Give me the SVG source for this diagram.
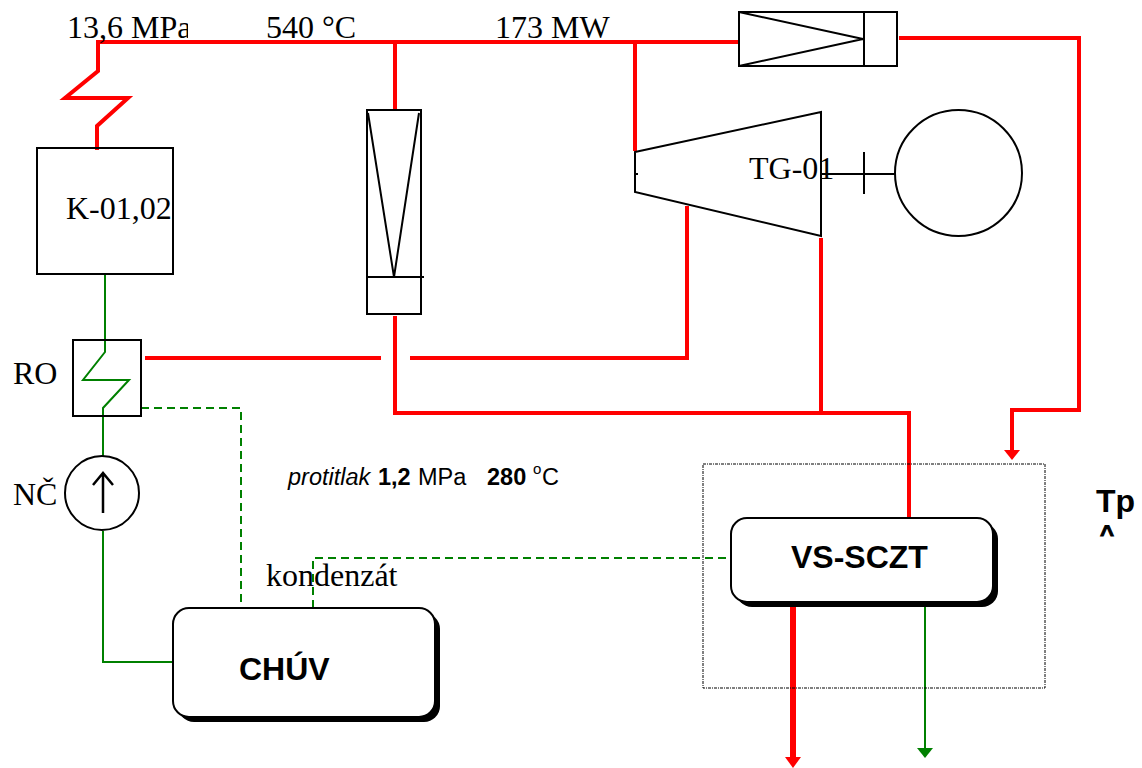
<svg xmlns="http://www.w3.org/2000/svg" width="1142" height="768" viewBox="0 0 1142 768">
<style>
.o{fill:none;stroke:#000;stroke-width:2}
.w{fill:#fff;stroke:#000;stroke-width:2}
.r{fill:none;stroke:#f00;stroke-width:4;stroke-linejoin:miter}
.g{fill:none;stroke:#008000;stroke-width:2}
.d{fill:none;stroke:#008000;stroke-width:2;stroke-dasharray:8 5}
.t{font-family:"Liberation Serif",serif;font-size:32px;fill:#000}
.s{font-family:"Liberation Sans",sans-serif;font-size:32px;font-weight:bold;fill:#000}
.p{font-family:"Liberation Sans",sans-serif;font-size:23.500px;fill:#000}
</style>
<defs><clipPath id="c"><rect x="0" y="0" width="188" height="60"/></clipPath></defs>
<rect width="1142" height="768" fill="#fff"/>
<g id="connectors">
<path class="r" d="M97 150V126L128 98H65L98 71V42H738"/>
<path class="r" d="M395 42V110"/>
<path class="r" d="M635 42V151"/>
<path class="r" d="M899 38H1079V410H1012V451"/>
<path class="r" d="M145 358H381"/>
<path class="r" d="M410 358H687V206"/>
<path class="r" d="M395 316V413H909V517"/>
<path class="r" d="M821 238V413"/>
<path d="M793 606V758" fill="none" stroke="#f00" stroke-width="6"/>
<path d="M785 757H801L793 768Z" fill="#f00"/>
<path d="M1004 450H1020L1012 460Z" fill="#f00"/>
<path class="g" d="M925 607V749"/>
<path d="M917 748H933L925 758Z" fill="#008000"/>
<path class="g" d="M105 274V352L83 380H129L103 408V456"/>
<path class="g" d="M103 531V662H173"/>
<path class="d" d="M141 408H241V608"/>
<path class="d" d="M313 608V558H732"/>
</g>
<g id="K-01"><rect class="o" x="37" y="148" width="136" height="126"/><text class="t" x="66" y="219">K-01,02</text></g>
<g id="tank"><rect class="o" x="367" y="110" width="54" height="204"/><path class="o" d="M368 113L394 277L419 113M367 277H424"/></g>
<g id="valve"><rect class="o" x="739" y="12" width="158" height="54"/><path class="o" d="M739 12L863 39L739 66M864 12V66"/></g>
<g id="turbine"><path class="o" d="M635 152L821 112V236L635 192Z"/><path class="o" d="M635 174H638M821 174H895M864 152V194"/><text class="t" x="749" y="179">TG-01</text></g>
<g id="generator"><ellipse class="o" cx="958.500" cy="173" rx="63.500" ry="63"/></g>
<g id="RO"><rect class="o" x="73" y="340" width="68" height="76"/><text class="t" x="13" y="384">RO</text></g>
<g id="pump"><circle class="o" cx="102" cy="493" r="37"/><path d="M103 513V474M93 485L103 473L113 485" fill="none" stroke="#000" stroke-width="2.500"/><text class="t" x="13" y="505">NČ</text></g>
<g id="chuv"><rect x="178" y="613" width="262" height="109" rx="16" fill="#000"/><rect class="w" x="173" y="608" width="262" height="109" rx="16"/><text class="s" x="239" y="680">CHÚV</text></g>
<g id="vs-sczt"><rect x="703" y="464" width="342" height="224" fill="none" stroke="#000" stroke-width="1" stroke-dasharray="3 1 1 1"/><rect x="736" y="523" width="262" height="84" rx="16" fill="#000"/><rect class="w" x="731" y="518" width="262" height="84" rx="16"/><text class="s" x="791" y="568">VS-SCZT</text></g>
<g id="labels">
<text class="t" x="67" y="38" clip-path="url(#c)">13,6 MPa</text>
<text class="t" x="266" y="38">540 °C</text>
<text class="t" x="495" y="38">173 MW</text>
<text class="t" x="266" y="586">kondenzát</text>
<text class="p" x="288" y="485" font-style="italic">protitlak</text>
<text class="p" x="378" y="485" font-weight="bold">1,2</text>
<text class="p" x="418" y="485">MPa</text>
<text class="p" x="487" y="485" font-weight="bold">280</text>
<text class="p" x="533" y="474" style="font-size:15px">o</text>
<text class="p" x="542" y="485">C</text>
<text class="s" x="1096" y="512">Tp</text>
<text class="s" x="1100" y="542" style="font-size:24px;stroke:#000;stroke-width:1">^</text>
</g>
</svg>
